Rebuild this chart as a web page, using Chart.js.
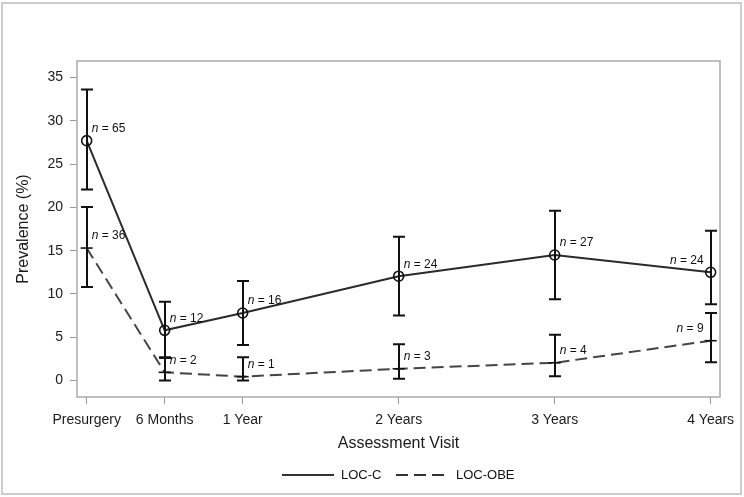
<!DOCTYPE html>
<html>
<head>
<meta charset="utf-8">
<script src="https://cdn.jsdelivr.net/npm/chart.js@4"></script>
<style>
  html, body { margin: 0; padding: 0; background: #fff; }
  #c { display: block; }
</style>
</head>
<body>
<canvas id="c" width="744" height="497"></canvas>
<script>
// ---- data ----
const visitYears = [0, 0.5, 1, 2, 3, 4];
const tickLabels = ['Presurgery', '6 Months', '1 Year', '2 Years', '3 Years', '4 Years'];
const locC = [27.7, 5.8, 7.8, 12.05, 14.5, 12.5];
const locCLow = [22.05, 2.6, 4.1, 7.5, 9.4, 8.8];
const locCHigh = [33.6, 9.1, 11.5, 16.6, 19.6, 17.3];
const locOBE = [15.3, 0.95, 0.45, 1.36, 2.05, 4.6];
const locOBELow = [10.8, 0, 0, 0.2, 0.5, 2.1];
const locOBEHigh = [20.05, 2.7, 2.7, 4.2, 5.3, 7.8];
const nC = [65, 12, 16, 24, 27, 24];
const nOBE = [36, 2, 1, 3, 4, 9];
const yTicks = [0, 5, 10, 15, 20, 25, 30, 35];
const seriesNames = ['LOC-C', 'LOC-OBE'];

const FONT = "'Liberation Sans', Arial, sans-serif";

const toPts = (vals) => vals.map((v, i) => ({ x: visitYears[i], y: v }));

const errorBars = {
  id: 'errorBars',
  afterDatasetsDraw(chart) {
    const { ctx, scales: { x, y } } = chart;
    const sets = [[locCLow, locCHigh], [locOBELow, locOBEHigh]];
    ctx.save();
    ctx.strokeStyle = '#111';
    ctx.lineWidth = 2;
    ctx.setLineDash([]);
    sets.forEach(([lo, hi]) => {
      visitYears.forEach((t, i) => {
        const px = Math.round(x.getPixelForValue(t));
        const y1 = y.getPixelForValue(lo[i]);
        const y2 = y.getPixelForValue(hi[i]);
        ctx.beginPath();
        ctx.moveTo(px, y1); ctx.lineTo(px, y2);
        ctx.moveTo(px - 6, y1); ctx.lineTo(px + 6, y1);
        ctx.moveTo(px - 6, y2); ctx.lineTo(px + 6, y2);
        ctx.stroke();
      });
    });
    ctx.restore();
  }
};

const nLabels = {
  id: 'nLabels',
  afterDatasetsDraw(chart) {
    const { ctx, scales: { x, y } } = chart;
    ctx.save();
    ctx.fillStyle = '#111';
    ctx.textBaseline = 'middle';
    const draw = (vals, ns) => {
      vals.forEach((v, i) => {
        const px = x.getPixelForValue(visitYears[i]);
        const py = y.getPixelForValue(v) - 12;
        ctx.font = 'italic 12px ' + FONT;
        const w1 = ctx.measureText('n').width;
        ctx.font = '12px ' + FONT;
        const rest = ' = ' + ns[i];
        const w2 = ctx.measureText(rest).width;
        let sx = px + 5;
        if (i === visitYears.length - 1) sx = px - 7 - (w1 + w2);
        ctx.textAlign = 'left';
        ctx.font = 'italic 12px ' + FONT;
        ctx.fillText('n', sx, py);
        ctx.font = '12px ' + FONT;
        ctx.fillText(rest, sx + w1, py);
      });
    };
    draw(locC, nC);
    draw(locOBE, nOBE);
    ctx.restore();
  }
};

const frame = {
  id: 'frame',
  beforeDatasetsDraw(chart) {
    const { ctx, chartArea: a } = chart;
    ctx.save();
    ctx.strokeStyle = '#aaaaaa';
    ctx.lineWidth = 1.5;
    ctx.strokeRect(a.left, a.top, a.right - a.left, a.bottom - a.top);
    ctx.restore();
  },
  afterDraw(chart) {
    const { ctx } = chart;
    ctx.save();
    // outer border
    ctx.strokeStyle = '#cccccc';
    ctx.lineWidth = 2;
    ctx.strokeRect(2, 3, 739, 491);
    // legend
    const cy = 475;
    ctx.strokeStyle = '#333';
    ctx.lineWidth = 2;
    ctx.beginPath(); ctx.moveTo(282, cy); ctx.lineTo(334, cy); ctx.stroke();
    ctx.setLineDash([12, 6]);
    ctx.beginPath(); ctx.moveTo(396, cy); ctx.lineTo(448, cy); ctx.stroke();
    ctx.setLineDash([]);
    ctx.fillStyle = '#111';
    ctx.font = '13px ' + FONT;
    ctx.textBaseline = 'middle';
    ctx.textAlign = 'left';
    ctx.fillText(seriesNames[0], 341, cy);
    ctx.fillText(seriesNames[1], 456, cy);
    ctx.restore();
  }
};

new Chart(document.getElementById('c'), {
  type: 'line',
  data: {
    datasets: [
      {
        label: seriesNames[0],
        data: toPts(locC),
        borderColor: '#2a2a2a',
        borderWidth: 2,
        pointStyle: 'circle',
        pointRadius: 5,
        pointBorderWidth: 1.6,
        pointBorderColor: '#111',
        pointBackgroundColor: 'rgba(0,0,0,0)',
        tension: 0
      },
      {
        label: seriesNames[1],
        data: toPts(locOBE),
        borderColor: '#444',
        borderWidth: 2,
        borderDash: [12, 6],
        pointStyle: 'line',
        pointRadius: 6,
        pointBorderWidth: 1.6,
        pointBorderColor: '#111',
        tension: 0
      }
    ]
  },
  options: {
    responsive: false,
    animation: false,
    events: [],
    layout: { padding: { left: 0, top: 61, right: 24, bottom: 40 } },
    plugins: { legend: { display: false }, tooltip: { enabled: false } },
    scales: {
      x: {
        type: 'linear',
        min: -0.062,
        max: 4.06,
        afterBuildTicks: (s) => { s.ticks = visitYears.map(v => ({ value: v })); },
        afterFit: (s) => { s.height = 60; },
        ticks: {
          callback: (v) => tickLabels[visitYears.indexOf(v)],
          font: { family: FONT, size: 14 },
          color: '#1a1a1a',
          padding: 8,
          maxRotation: 0,
          autoSkip: false
        },
        grid: { display: true, drawOnChartArea: false, drawTicks: true, tickLength: 7, color: '#999', lineWidth: 1 },
        border: { display: false },
        title: { display: true, text: 'Assessment Visit', font: { family: FONT, size: 16 }, color: '#1a1a1a', padding: { top: 0, bottom: 3.5 } }
      },
      y: {
        min: -1.9,
        max: 36.9,
        afterBuildTicks: (s) => { s.ticks = yTicks.map(v => ({ value: v })); },
        afterFit: (s) => { s.width = 77; },
        ticks: {
          font: { family: FONT, size: 14 },
          color: '#1a1a1a',
          padding: 7
        },
        grid: { display: true, drawOnChartArea: false, drawTicks: true, tickLength: 7, color: '#999', lineWidth: 1 },
        border: { display: false },
        title: { display: true, text: 'Prevalence (%)', font: { family: FONT, size: 16 }, color: '#1a1a1a', padding: { top: 14, bottom: 0 } }
      }
    }
  },
  plugins: [frame, errorBars, nLabels]
});
</script>
</body>
</html>
